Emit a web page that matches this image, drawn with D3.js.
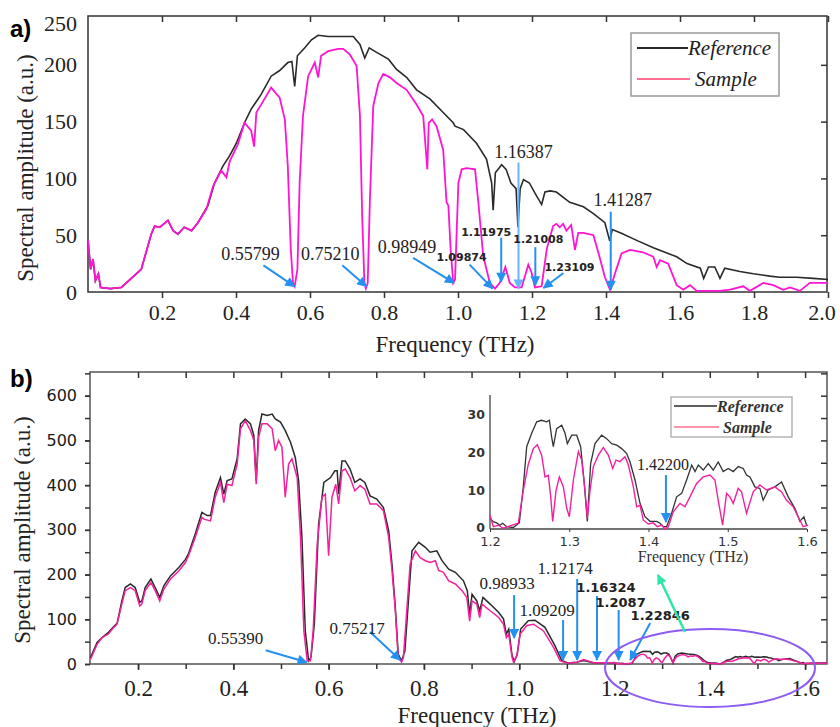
<!DOCTYPE html>
<meta charset="utf-8">
<style>
body { margin: 0; background: white; }
svg { font-family: "Liberation Serif", serif; }
.tick text { fill: #222; }
</style>
<body>
<script src="https://cdnjs.cloudflare.com/ajax/libs/d3/7.8.5/d3.min.js"></script>
<script>

// ---- data: [frequency (THz), amplitude (a.u.)] ----
// panel a
var refA = [[0,46],[0.007,20],[0.0135,29],[0.02,10],[0.028,16],[0.034,4],[0.06,3],[0.09,4],[0.117,12],[0.144,20],[0.171,51],[0.18,58],[0.194,57],[0.216,63],[0.23,54],[0.243,51],[0.26,57],[0.28,54],[0.297,61],[0.324,76],[0.342,96],[0.365,111],[0.383,120],[0.401,131],[0.423,149],[0.441,161],[0.468,174],[0.495,190],[0.518,195],[0.54,202],[0.551,203],[0.5586,181],[0.566,208],[0.586,215],[0.604,222],[0.622,226],[0.649,225],[0.68,225],[0.717,225],[0.735,218],[0.748,206],[0.76,215],[0.78,211],[0.812,205],[0.834,196],[0.861,189],[0.888,178],[0.924,170],[0.96,158],[0.987,149],[0.992,146],[1.015,143],[1.05,131],[1.077,117],[1.091,96],[1.095,72],[1.101,105],[1.118,112],[1.13,108],[1.143,96],[1.157,91],[1.162,57],[1.168,91],[1.177,99],[1.193,96],[1.208,87],[1.226,77],[1.235,88],[1.249,89],[1.266,88],[1.302,79],[1.339,75],[1.366,69],[1.397,61],[1.41,45],[1.417,55],[1.44,52],[1.486,45],[1.528,39],[1.591,31],[1.619,25],[1.655,21],[1.664,12],[1.677,22],[1.694,22],[1.708,12],[1.721,21],[1.762,18],[1.798,16],[1.843,14],[1.87,13],[1.915,13],[1.96,12],[2.0,11]];

var sampleA = [[0,46],[0.007,20],[0.0135,29],[0.02,10],[0.028,16],[0.034,4],[0.06,3],[0.09,4],[0.117,12],[0.144,20],[0.171,51],[0.18,58],[0.194,57],[0.216,63],[0.23,54],[0.243,51],[0.26,57],[0.28,54],[0.297,61],[0.32,73],[0.338,93],[0.36,107],[0.374,101],[0.383,115],[0.405,130],[0.423,149],[0.441,142],[0.449,128],[0.455,158],[0.468,165],[0.495,180],[0.518,171],[0.532,152],[0.54,111],[0.548,38],[0.554,8],[0.5586,5],[0.566,20],[0.572,96],[0.581,155],[0.595,190],[0.613,202],[0.622,189],[0.63,208],[0.649,212],[0.676,214],[0.69,214],[0.708,209],[0.726,199],[0.735,155],[0.741,67],[0.747,8],[0.751,3],[0.756,8],[0.762,82],[0.771,164],[0.785,184],[0.798,192],[0.816,189],[0.834,184],[0.861,178],[0.888,165],[0.906,155],[0.913,125],[0.917,108],[0.921,149],[0.93,152],[0.942,146],[0.96,125],[0.969,79],[0.974,76],[0.98,38],[0.987,8],[0.992,11],[1.001,96],[1.01,108],[1.023,109],[1.046,108],[1.055,79],[1.068,32],[1.086,8],[1.1,3],[1.113,8],[1.128,22],[1.14,8],[1.154,4],[1.172,4],[1.19,24],[1.199,17],[1.208,4],[1.226,5],[1.24,38],[1.257,58],[1.266,60],[1.275,57],[1.284,60],[1.293,54],[1.306,59],[1.316,37],[1.325,52],[1.339,52],[1.366,50],[1.38,34],[1.397,13],[1.411,2],[1.424,16],[1.442,34],[1.465,37],[1.5,35],[1.528,31],[1.537,22],[1.546,28],[1.568,25],[1.591,6],[1.609,2],[1.627,6],[1.645,1],[1.708,1],[1.735,2],[1.771,5],[1.789,1],[1.825,8],[1.852,6],[1.879,2],[1.897,4],[1.924,1],[1.951,8],[2.0,8]];

// panel b, up to 1.2 THz
var refBLow = [[0.1,14],[0.114,48],[0.1245,59],[0.138,71],[0.149,84],[0.156,91],[0.166,141],[0.173,171],[0.184,179],[0.194,171],[0.2036,138],[0.208,141],[0.215,171],[0.227,190],[0.236,171],[0.2455,149],[0.254,175],[0.268,197],[0.2855,216],[0.2995,234],[0.306,247],[0.32,291],[0.334,339],[0.345,332],[0.352,332],[0.362,384],[0.373,417],[0.38,380],[0.387,410],[0.397,414],[0.408,459],[0.415,537],[0.425,548],[0.436,537],[0.443,511],[0.448,410],[0.453,522],[0.46,559],[0.471,556],[0.4815,559],[0.488,548],[0.499,541],[0.509,522],[0.52,496],[0.53,462],[0.537,410],[0.544,283],[0.551,74],[0.558,7],[0.563,15],[0.57,89],[0.579,313],[0.59,406],[0.604,417],[0.613,432],[0.618,432],[0.621,380],[0.628,454],[0.635,454],[0.645,436],[0.655,406],[0.666,414],[0.676,406],[0.687,376],[0.701,369],[0.715,350],[0.726,298],[0.733,223],[0.74,126],[0.746,22],[0.753,7],[0.76,29],[0.768,149],[0.775,253],[0.789,272],[0.803,261],[0.813,250],[0.827,253],[0.838,231],[0.852,212],[0.866,205],[0.883,186],[0.891,164],[0.896,111],[0.901,156],[0.911,141],[0.917,119],[0.924,149],[0.939,134],[0.957,115],[0.967,101],[0.973,67],[0.978,78],[0.985,19],[0.99,6],[0.996,22],[1.003,78],[1.019,97],[1.033,98],[1.054,82],[1.075,41],[1.089,8],[1.103,2],[1.121,4],[1.135,8],[1.156,3],[1.19,3]];

var sampleBLow = [[0.1,10],[0.114,44],[0.1245,59],[0.138,67],[0.149,82],[0.156,89],[0.166,134],[0.173,164],[0.184,171],[0.194,164],[0.2036,130],[0.208,134],[0.215,164],[0.227,182],[0.236,164],[0.2455,141],[0.254,167],[0.268,190],[0.2855,208],[0.2995,227],[0.306,242],[0.32,283],[0.334,328],[0.338,324],[0.352,320],[0.362,373],[0.373,406],[0.38,361],[0.387,402],[0.397,399],[0.408,447],[0.415,526],[0.425,544],[0.436,522],[0.443,500],[0.448,402],[0.453,507],[0.46,537],[0.471,537],[0.4815,526],[0.488,477],[0.495,500],[0.502,485],[0.509,373],[0.516,447],[0.523,459],[0.534,417],[0.541,283],[0.548,74],[0.555,7],[0.562,7],[0.5675,74],[0.576,268],[0.586,373],[0.593,380],[0.6,242],[0.607,373],[0.615,402],[0.621,358],[0.628,432],[0.635,436],[0.645,417],[0.655,387],[0.666,399],[0.676,391],[0.687,358],[0.701,358],[0.715,343],[0.726,283],[0.733,209],[0.74,119],[0.746,15],[0.753,4],[0.757,15],[0.764,119],[0.771,223],[0.782,253],[0.792,238],[0.803,231],[0.813,227],[0.824,231],[0.831,209],[0.841,205],[0.852,186],[0.866,179],[0.88,164],[0.89,149],[0.896,96],[0.901,141],[0.911,134],[0.917,104],[0.922,134],[0.939,119],[0.957,104],[0.967,89],[0.973,59],[0.978,67],[0.985,15],[0.988,4],[0.995,19],[1.002,67],[1.016,86],[1.03,89],[1.051,74],[1.072,37],[1.086,7],[1.1,2],[1.121,4],[1.135,10],[1.156,3],[1.19,3]];

// 1.2 - 1.6 THz (shown in the inset and in panel b)
var refInset = [[1.2,2.8],[1.2042,1.9],[1.2084,1.6],[1.2126,1],[1.216,1.5],[1.221,0.6],[1.2294,0.4],[1.237,1.6],[1.242,11],[1.2463,21.5],[1.2526,25],[1.2589,28],[1.2652,28.4],[1.2715,28],[1.2749,28.4],[1.2778,24],[1.2799,21.5],[1.2841,26.2],[1.2905,27.1],[1.2947,25],[1.2976,22.3],[1.3031,24.5],[1.3094,24.5],[1.3144,21.5],[1.3186,12.8],[1.3228,2],[1.327,17.1],[1.3325,22.3],[1.3409,24.5],[1.3472,23.6],[1.3535,22.3],[1.3599,21.9],[1.3662,21],[1.3725,19.7],[1.3767,17.5],[1.383,12.8],[1.3893,6.7],[1.3956,3.2],[1.4019,2],[1.4103,2],[1.4145,1.5],[1.4187,0.6],[1.4229,0.6],[1.4292,4.1],[1.4355,8.4],[1.4418,9.3],[1.4481,12.8],[1.4545,16.7],[1.4587,15],[1.4629,16.7],[1.4691,15.4],[1.4754,17.1],[1.4817,15.4],[1.488,17.5],[1.4943,15],[1.5006,15.8],[1.5069,15],[1.5132,16.3],[1.5195,15.8],[1.5237,14.1],[1.528,13.6],[1.5343,11],[1.5405,10.6],[1.5447,7.5],[1.551,10.2],[1.5595,11],[1.5679,12.3],[1.5763,8.4],[1.5847,5.4],[1.591,2],[1.5961,3.2],[1.5994,1]];

var sampleInset = [[1.2,3.6],[1.2042,0.6],[1.2105,1],[1.2168,0.2],[1.2252,0.8],[1.2357,1.5],[1.242,10],[1.2484,17],[1.2547,21],[1.2597,22],[1.2652,19.3],[1.2694,13.6],[1.2736,14],[1.2766,8.4],[1.2791,2],[1.2833,10],[1.2875,13.6],[1.2926,11],[1.2968,5.4],[1.3001,3.2],[1.3052,12.8],[1.3115,20.2],[1.3157,18],[1.3199,10],[1.3228,2.8],[1.3262,10],[1.3304,16.3],[1.3367,19.3],[1.343,21.3],[1.3493,19.3],[1.3548,15.8],[1.359,18],[1.364,17.6],[1.3704,18.9],[1.3746,16.7],[1.3809,11],[1.3851,5.8],[1.3893,6.2],[1.3935,2.3],[1.3998,1.3],[1.4061,1.6],[1.4112,0.6],[1.4166,1],[1.4208,0],[1.425,0.6],[1.4313,4.5],[1.4397,6.7],[1.446,5.8],[1.4523,8.4],[1.4607,11.9],[1.4691,13.6],[1.4775,14.1],[1.4838,12.8],[1.488,7.5],[1.4935,1],[1.4985,9.3],[1.5027,8.4],[1.5069,6.7],[1.5132,10.6],[1.5174,9.7],[1.5237,4.1],[1.5321,9.7],[1.5405,11.5],[1.549,10.2],[1.5595,11],[1.5679,9.7],[1.5742,7.5],[1.5826,5.8],[1.591,2.3],[1.5952,0.6],[1.6015,1]];

var refBTail = [[1.62,2],[1.646,2]];
var sampleBTail = [[1.62,1.5],[1.646,1.5]];

var refB = refBLow.concat(refInset, refBTail);
var sampleB = sampleBLow.concat(sampleInset, sampleBTail);

// tick values
var xTicksA = [0.2,0.4,0.6,0.8,1.0,1.2,1.4,1.6,1.8,2.0];
var yTicksA = [0,50,100,150,200,250];
var xTicksB = [0.2,0.4,0.6,0.8,1.0,1.2,1.4,1.6];
var yTicksB = [0,100,200,300,400,500,600];
var xTicksInset = [1.2,1.3,1.4,1.5,1.6];
var yTicksInset = [0,10,20,30];

// annotations: label, frequency of tip, value of tip
var peaksA = [
  {t:"0.55799", f:0.558, v:5, sx:-31, sy:-21, tx:-44, ty:-33},
  {t:"0.75210", f:0.7521, v:5, sx:-24, sy:-21, tx:-36, ty:-33},
  {t:"0.98949", f:0.98949, v:8, sx:-41, sy:-25, tx:-47, ty:-36},
  {t:"1.09874", f:1.0935, v:3, sx:-23, sy:-24, tx:-31, ty:-31, bold:true},
  {t:"1.11975", f:1.1168, v:9, sx:0, sy:-44, tx:-15, ty:-50, bold:true},
  {t:"1.16387", f:1.1635, v:3, sx:0, sy:-126, tx:5, ty:-137, light:true},
  {t:"1.21008", f:1.2090, v:6, sx:0, sy:-38, tx:3, ty:-46, bold:true},
  {t:"1.23109", f:1.2310, v:3.5, sx:20, sy:-15, tx:26, ty:-21, bold:true},
  {t:"1.41287", f:1.4128, v:2, sx:0, sy:-78, tx:12, ty:-90}
];
var peaksB = [
  {t:"0.55390", f:0.5539, v:4, sx:-41, sy:-12, tx:-71, ty:-24},
  {t:"0.75217", f:0.7500, v:9, sx:-30, sy:-28, tx:-43, ty:-32},
  {t:"0.98933", f:0.9893, v:58, sx:0, sy:-43, tx:-7, ty:-55},
  {t:"1.09209", f:1.0921, v:9, sx:0, sy:-40, tx:-16, ty:-50},
  {t:"1.12174", f:1.1217, v:9, sx:0, sy:-81, tx:-12, ty:-92},
  {t:"1.16324", f:1.1632, v:9, sx:0, sy:-64, tx:9, ty:-73, bold:true},
  {t:"1.2087", f:1.2087, v:9, sx:0, sy:-50, tx:2, ty:-58, bold:true},
  {t:"1.22846", f:1.2330, v:9, sx:20, sy:-37, tx:30, ty:-45, bold:true}
];
var peaksInset = [
  {t:"1.42200", f:1.422, v:1.8, sx:0, sy:-47, tx:-3, ty:-58}
];

var W = 840, H = 727;
var svg = d3.select("body").append("svg")
    .attr("width", W)
    .attr("height", H);

var defs = svg.append("defs");
function head(id, color) {
  defs.append("marker")
    .attr("id", id)
    .attr("viewBox", "0 0 10 10")
    .attr("refX", 9)
    .attr("refY", 5)
    .attr("markerUnits", "userSpaceOnUse")
    .attr("markerWidth", 12)
    .attr("markerHeight", 10)
    .attr("orient", "auto")
    .append("path")
    .attr("d", "M0,0 L10,5 L0,10 z")
    .style("fill", color);
}
var blue = "#2490f0", lightBlue = "#6ab4ff", green = "#2ee6a6";
head("hb", blue);
head("hl", lightBlue);
head("hg", green);

var magentaA = "#ff14d2", magentaB = "#f5209e", black = "#2a2a2a";

function frameTicks(g, axis, tx, ty) {
  var a = g.append("g").attr("transform", "translate(" + tx + "," + ty + ")").call(axis);
  a.select(".domain").remove();
  a.selectAll("line").attr("stroke", "#333").attr("stroke-width", 1.5);
  return a;
}

function annotate(g, list, x, y, boldSize, size) {
  list.forEach(function(p) {
    var x2 = x(p.f), y2 = y(p.v);
    var id = p.light ? "hl" : "hb";
    g.append("line")
      .attr("x1", x2 + p.sx).attr("y1", y2 + p.sy)
      .attr("x2", x2).attr("y2", y2)
      .attr("stroke", p.light ? lightBlue : blue)
      .attr("stroke-width", 2)
      .attr("marker-end", "url(#" + id + ")");
    g.append("text")
      .attr("x", x2 + p.tx).attr("y", y2 + p.ty)
      .attr("dy", "0.35em")
      .attr("text-anchor", "middle")
      .style("font-family", p.bold ? "'DejaVu Sans', sans-serif" : "'Liberation Serif', serif")
      .style("font-weight", p.bold ? "bold" : "normal")
      .style("font-size", (p.bold ? boldSize : size) + "px")
      .style("fill", "#222")
      .text(p.t);
  });
}

// ================= panel a =================
var xA = d3.scaleLinear().domain([0, 2.0]).range([88, 828]);
var yA = d3.scaleLinear().domain([0, 243]).range([292, 16]);
var ga = svg.append("g");

ga.append("rect")
  .attr("x", 88).attr("y", 16).attr("width", 739).attr("height", 276)
  .attr("fill", "none").attr("stroke", "#333").attr("stroke-width", 1.5);

var axA = frameTicks(ga, d3.axisBottom(xA).tickValues(xTicksA).tickSize(6).tickPadding(6).tickFormat(d3.format(".1f")), 0, 292);
axA.selectAll("text").style("font-size", "22px").style("font-family", "'Liberation Serif', serif");
axA.selectAll(".tick").filter(function(d) { return d === 2.0; }).select("text").attr("dx", "-0.3em");
frameTicks(ga, d3.axisTop(xA).tickValues(xTicksA).tickSize(-6).tickFormat(""), 0, 16);
frameTicks(ga, d3.axisRight(yA).tickValues([50,100,150,200]).tickSize(-6).tickFormat(""), 827, 0);
var ayA = frameTicks(ga, d3.axisLeft(yA).tickValues(yTicksA).tickSize(0).tickPadding(11), 88, 0);
ayA.selectAll("text").style("font-size", "22px").style("font-family", "'Liberation Serif', serif");
ayA.selectAll(".tick").filter(function(d) { return d === 250; }).select("text").attr("dy", "1.0em");

var lineA = d3.line().x(function(d) { return xA(d[0]); }).y(function(d) { return yA(d[1]); });
ga.append("path").datum(refA).attr("d", lineA)
  .attr("fill", "none").attr("stroke", black).attr("stroke-width", 1.6);
ga.append("path").datum(sampleA).attr("d", lineA)
  .attr("fill", "none").attr("stroke", magentaA).attr("stroke-width", 1.8);

annotate(ga, peaksA, xA, yA, 11, 18);

ga.append("text").attr("x", 455).attr("y", 352)
  .attr("text-anchor", "middle").style("font-size", "23px").style("fill", "#222")
  .text("Frequency (THz)");
ga.append("text").attr("transform", "translate(33,168) rotate(-90)")
  .attr("text-anchor", "middle").style("font-size", "23px").style("fill", "#222")
  .text("Spectral amplitude (a.u.)");
ga.append("text").attr("x", 10).attr("y", 37)
  .style("font-family", "'Liberation Sans', sans-serif").style("font-weight", "bold")
  .style("font-size", "24px").text("a)");

// legend a
var la = ga.append("g");
la.append("rect").attr("x", 631).attr("y", 33).attr("width", 148).attr("height", 63)
  .attr("fill", "white").attr("stroke", "#999").attr("stroke-width", 1.5);
la.append("line").attr("x1", 637).attr("x2", 688).attr("y1", 48).attr("y2", 48)
  .attr("stroke", black).attr("stroke-width", 2);
la.append("text").attr("x", 688).attr("y", 55).style("font-style", "italic")
  .style("font-size", "21px").style("fill", "#222").text("Reference");
la.append("line").attr("x1", 637).attr("x2", 690).attr("y1", 79).attr("y2", 79)
  .attr("stroke", "#ff7090").attr("stroke-width", 2);
la.append("text").attr("x", 695).attr("y", 86).style("font-style", "italic")
  .style("font-size", "21px").style("fill", "#222").text("Sample");

// ================= panel b =================
var xB = d3.scaleLinear().domain([0.1, 1.646]).range([90.4, 827]);
var yB = d3.scaleLinear().domain([0, 653]).range([664, 372]);
var gb = svg.append("g");

gb.append("rect")
  .attr("x", 90).attr("y", 372).attr("width", 737).attr("height", 292)
  .attr("fill", "none").attr("stroke", "#555").attr("stroke-width", 1.5);

var tenths = d3.range(2, 17).map(function(i) { return i / 10; });
var fifties = d3.range(0, 651, 50);

var axB = frameTicks(gb, d3.axisBottom(xB).tickValues(xTicksB).tickSize(6).tickPadding(10).tickFormat(d3.format(".1f")), 0, 664);
axB.selectAll("text").style("font-size", "23px").style("font-family", "'Liberation Serif', serif");
frameTicks(gb, d3.axisBottom(xB).tickValues(tenths).tickSize(5).tickFormat(""), 0, 664);
frameTicks(gb, d3.axisTop(xB).tickValues(tenths).tickSize(-6).tickFormat(""), 0, 372);
frameTicks(gb, d3.axisRight(yB).tickValues(fifties.slice(1)).tickSize(-6).tickFormat(""), 827, 0);
frameTicks(gb, d3.axisLeft(yB).tickValues(fifties).tickSize(5).tickFormat(""), 90, 0);
var ayB = frameTicks(gb, d3.axisLeft(yB).tickValues(yTicksB).tickSize(5).tickPadding(8), 90, 0);
ayB.selectAll("text").style("font-size", "16px").style("font-family", "'DejaVu Sans', sans-serif").style("fill", "#1a1a1a");

var lineB = d3.line().x(function(d) { return xB(d[0]); }).y(function(d) { return yB(d[1]); });
gb.append("path").datum(refB).attr("d", lineB)
  .attr("fill", "none").attr("stroke", black).attr("stroke-width", 1.5);
gb.append("path").datum(sampleB).attr("d", lineB)
  .attr("fill", "none").attr("stroke", magentaB).attr("stroke-width", 1.5);

annotate(gb, peaksB, xB, yB, 13, 17);

gb.append("text").attr("x", 477).attr("y", 723)
  .attr("text-anchor", "middle").style("font-size", "23px").style("fill", "#222")
  .text("Frequency (THz)");
gb.append("text").attr("transform", "translate(30,530) rotate(-90)")
  .attr("text-anchor", "middle").style("font-size", "23px").style("fill", "#222")
  .text("Spectral amplitude (a.u.)");
gb.append("text").attr("x", 10).attr("y", 387)
  .style("font-family", "'Liberation Sans', sans-serif").style("font-weight", "bold")
  .style("font-size", "24px").text("b)");

// ellipse around 1.2-1.6 THz and pointer to inset
gb.append("ellipse").attr("cx", 710).attr("cy", 668).attr("rx", 105).attr("ry", 39)
  .attr("fill", "none").attr("stroke", "#8d5cf2").attr("stroke-width", 2);
gb.append("line").attr("x1", 685).attr("y1", 632).attr("x2", 658).attr("y2", 575)
  .attr("stroke", green).attr("stroke-width", 2.5).attr("marker-end", "url(#hg)");

// ================= inset =================
var xI = d3.scaleLinear().domain([1.2, 1.6]).range([490, 807]);
var yI = d3.scaleLinear().domain([0, 35]).range([529, 395]);
var gi = svg.append("g");

gi.append("line").attr("x1", 490).attr("x2", 490).attr("y1", 395).attr("y2", 529)
  .attr("stroke", "#444").attr("stroke-width", 1.3);
gi.append("line").attr("x1", 490).attr("x2", 807).attr("y1", 529).attr("y2", 529)
  .attr("stroke", "#444").attr("stroke-width", 1.3);
var axI = frameTicks(gi, d3.axisBottom(xI).tickValues(xTicksInset).tickSize(3).tickPadding(5).tickFormat(d3.format(".1f")), 0, 529);
axI.selectAll("text").style("font-size", "13px").style("font-family", "'DejaVu Sans', sans-serif").style("fill", "#333");
axI.selectAll("line").attr("stroke-width", 1);
var ayI = frameTicks(gi, d3.axisLeft(yI).tickValues(yTicksInset).tickSize(0).tickPadding(5), 490, 0);
ayI.selectAll("text").style("font-size", "12.5px").style("font-family", "'DejaVu Sans', sans-serif")
  .style("font-weight", "bold").style("fill", "#333");
ayI.selectAll(".tick").filter(function(d) { return d === 0; }).select("text").attr("dy", "0.2em");

var lineI = d3.line().x(function(d) { return xI(d[0]); }).y(function(d) { return yI(d[1]); });
gi.append("path").datum(refInset).attr("d", lineI)
  .attr("fill", "none").attr("stroke", "#333").attr("stroke-width", 1.3);
gi.append("path").datum(sampleInset).attr("d", lineI)
  .attr("fill", "none").attr("stroke", magentaB).attr("stroke-width", 1.4);

annotate(gi, peaksInset, xI, yI, 12, 16);

gi.append("text").attr("x", 693).attr("y", 562)
  .attr("text-anchor", "middle").style("font-size", "16px").style("fill", "#333")
  .text("Frequency (THz)");

var li = gi.append("g");
li.append("rect").attr("x", 671).attr("y", 397).attr("width", 121).attr("height", 40)
  .attr("fill", "white").attr("stroke", "#aaa").attr("stroke-width", 1.3);
li.append("line").attr("x1", 674).attr("x2", 717).attr("y1", 406).attr("y2", 406)
  .attr("stroke", black).attr("stroke-width", 1.5);
li.append("text").attr("x", 717).attr("y", 412).style("font-style", "italic").style("font-weight", "bold")
  .style("font-size", "16px").style("fill", "#333").text("Reference");
li.append("line").attr("x1", 674).attr("x2", 719).attr("y1", 427).attr("y2", 427)
  .attr("stroke", "#ff7090").attr("stroke-width", 1.5);
li.append("text").attr("x", 723).attr("y", 433).style("font-style", "italic").style("font-weight", "bold")
  .style("font-size", "16px").style("fill", "#333").text("Sample");

</script>
</body>
